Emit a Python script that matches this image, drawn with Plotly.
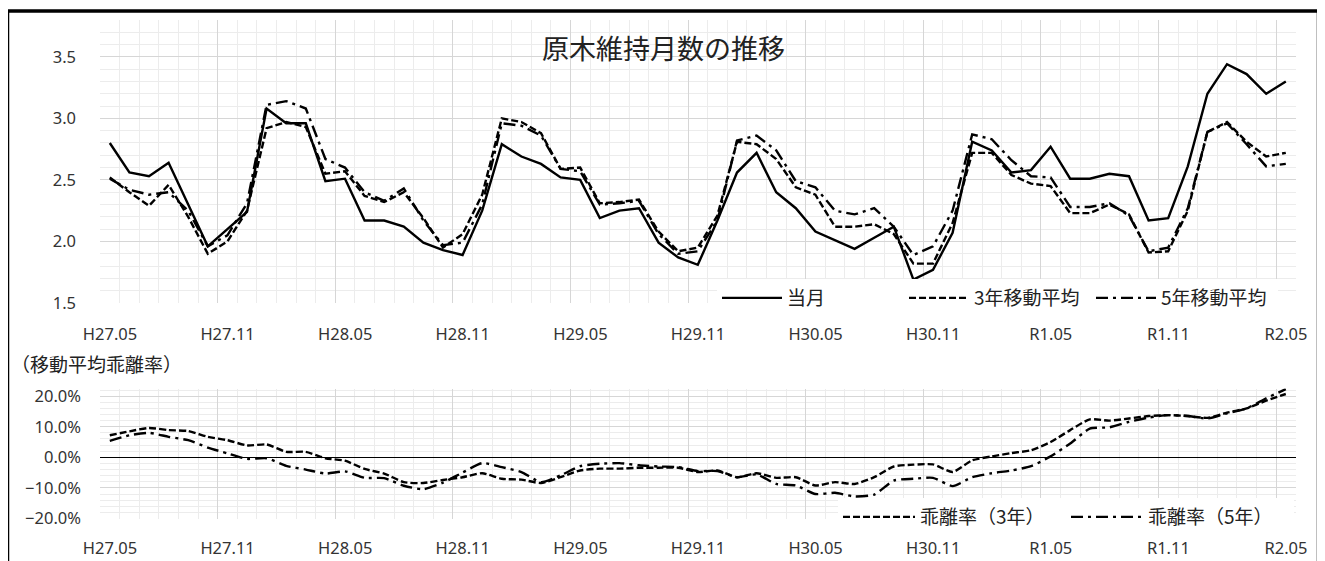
import plotly.graph_objects as go

# ---------------- data ----------------
months = ["H27.05", "H27.11", "H28.05", "H28.11", "H29.05", "H29.11",
          "H30.05", "H30.11", "R1.05", "R1.11", "R2.05"]

actual = [2.80, 2.56, 2.53, 2.64, 2.30, 1.96, 2.10, 2.24, 3.08, 2.96,
          2.96, 2.49, 2.51, 2.17, 2.17, 2.12, 1.99, 1.93, 1.89, 2.25,
          2.79, 2.69, 2.63, 2.52, 2.50, 2.19, 2.25, 2.27, 1.99, 1.87,
          1.81, 2.17, 2.56, 2.72, 2.40, 2.27, 2.08, 2.01, 1.94, 2.03,
          2.12, 1.69, 1.77, 2.07, 2.81, 2.74, 2.56, 2.58, 2.77, 2.51,
          2.51, 2.55, 2.53, 2.17, 2.19, 2.61, 3.20, 3.44, 3.36, 3.20,
          3.30]

ma3 = [2.52, 2.40, 2.29, 2.46, 2.20, 1.90, 2.00, 2.25, 2.92, 2.97,
       2.93, 2.55, 2.57, 2.37, 2.32, 2.40, 2.19, 1.95, 2.06, 2.38,
       3.00, 2.97, 2.88, 2.59, 2.60, 2.31, 2.32, 2.34, 2.08, 1.92,
       1.95, 2.21, 2.81, 2.79, 2.67, 2.44, 2.38, 2.12, 2.12, 2.14,
       2.06, 1.82, 1.82, 2.15, 2.72, 2.72, 2.54, 2.47, 2.45, 2.23,
       2.23, 2.30, 2.22, 1.91, 1.92, 2.25, 2.89, 2.97, 2.81, 2.69,
       2.72]

ma5 = [2.51, 2.42, 2.38, 2.40, 2.25, 1.96, 2.05, 2.31, 3.11, 3.14,
       3.08, 2.67, 2.60, 2.40, 2.33, 2.43, 2.17, 1.97, 1.99, 2.30,
       2.96, 2.94, 2.86, 2.59, 2.57, 2.30, 2.31, 2.33, 2.06, 1.90,
       1.92, 2.17, 2.82, 2.86, 2.74, 2.49, 2.44, 2.25, 2.22, 2.27,
       2.12, 1.89, 1.96, 2.25, 2.87, 2.83, 2.66, 2.53, 2.52, 2.28,
       2.28, 2.31, 2.21, 1.92, 1.95, 2.27, 2.89, 2.96, 2.79, 2.61,
       2.63]

dev3_pct = [7.2, 8.5, 9.6, 8.9, 8.6, 6.7, 5.6, 3.9, 4.2, 1.8,
            1.8, -0.3, -1.1, -3.8, -5.3, -8.1, -8.4, -7.4, -6.5, -5.2,
            -7.0, -7.3, -8.4, -6.5, -4.3, -3.7, -3.7, -3.4, -3.4, -3.4,
            -4.8, -4.3, -6.5, -5.2, -6.7, -6.5, -9.2, -8.1, -8.7, -6.5,
            -3.0, -2.4, -2.3, -4.8, -1.0, 0.3, 1.4, 2.3, 5.0, 8.9,
            12.4, 12.0, 12.7, 13.5, 13.8, 13.5, 12.9, 14.6, 16.0, 18.5,
            20.7]

dev5_pct = [5.4, 7.2, 8.0, 6.7, 5.6, 3.2, 1.3, -0.5, -0.3, -2.8,
            -4.0, -5.3, -4.6, -6.7, -6.8, -9.3, -10.4, -8.3, -5.0, -1.9,
            -3.2, -4.8, -8.1, -5.9, -2.9, -2.1, -1.9, -2.6, -3.0, -3.2,
            -4.5, -4.5, -6.5, -5.6, -8.7, -9.2, -12.0, -11.6, -12.8, -12.2,
            -7.6, -7.0, -6.7, -9.4, -6.5, -5.2, -4.3, -2.9, 0.3, 4.5,
            9.4, 9.8, 11.6, 13.0, 13.8, 13.5, 12.7, 14.4, 16.0, 19.3,
            22.3]

# ---------------- figure ----------------
W, H = 1325, 561
OFF = 8  # page body margin of the browser

def px(x):
    return (x - OFF) / W

def py(y):
    return 1 - (y - OFF) / H

idx = list(range(len(actual)))
dev3 = [v / 100 for v in dev3_pct]
dev5 = [v / 100 for v in dev5_pct]

JP = "Noto Sans CJK JP"
TICKFONT = dict(family="Noto Sans, " + JP, size=16.5, color="#333333")
MAJ = "#d6d6d6"
MIN = "#ececec"
DASH = "7px,3px"
DASHDOT = "12px,5px,3px,5px"

fig = go.Figure()
fig.add_trace(go.Scatter(x=idx, y=actual, name="当月", mode="lines",
                         line=dict(color="black", width=2.4),
                         xaxis="x", yaxis="y", legend="legend"))
fig.add_trace(go.Scatter(x=idx, y=ma3, name="3年移動平均", mode="lines",
                         line=dict(color="black", width=2.4, dash=DASH),
                         xaxis="x", yaxis="y", legend="legend"))
fig.add_trace(go.Scatter(x=idx, y=ma5, name="5年移動平均", mode="lines",
                         line=dict(color="black", width=2.4, dash=DASHDOT),
                         xaxis="x", yaxis="y", legend="legend"))
fig.add_trace(go.Scatter(x=idx, y=dev3, name="乖離率（3年）", mode="lines",
                         line=dict(color="black", width=2.4, dash=DASH, shape="spline", smoothing=0.6),
                         xaxis="x2", yaxis="y2", legend="legend2"))
fig.add_trace(go.Scatter(x=idx, y=dev5, name="乖離率（5年）", mode="lines",
                         line=dict(color="black", width=2.4, dash=DASHDOT, shape="spline", smoothing=0.6),
                         xaxis="x2", yaxis="y2", legend="legend2"))

n = len(actual)
bounds = [i * 6 - 0.5 for i in range(len(months))]
xdom = [px(100), px(1295.6)]

def xaxis_cfg(anchor, standoff):
    return dict(domain=xdom, anchor=anchor, range=[-0.5, n - 0.5],
                automargin=False,
                tickmode="array", tickvals=bounds, ticktext=months,
                ticklabelshift=10, ticklabelstandoff=standoff,
                showgrid=True, gridcolor=MAJ, gridwidth=1.2,
                zeroline=False, showline=False, ticks="",
                tickfont=TICKFONT,
                minor=dict(tickmode="linear", tick0=-0.5, dtick=1,
                           showgrid=True, gridcolor=MIN, gridwidth=1, ticks=""))

fig.update_layout(
    width=W, height=H,
    margin=dict(l=0, r=0, t=0, b=0, pad=0),
    paper_bgcolor="white", plot_bgcolor="white",
    font=dict(family=JP, color="#222"),
    xaxis=xaxis_cfg("y", 19),
    xaxis2=xaxis_cfg("y2", 18),
    yaxis=dict(domain=[py(303), py(19.9)], anchor="x",
               automargin=False,
               range=[1.5, 3.8], tickmode="array",
               tickvals=[1.5, 2.0, 2.5, 3.0, 3.5],
               ticktext=["1.5", "2.0", "2.5", "3.0", "3.5"],
               showgrid=True, gridcolor=MAJ, gridwidth=1.2,
               zeroline=False, showline=False, ticks="",
               ticklabelstandoff=23, tickfont=TICKFONT,
               minor=dict(tickmode="linear", tick0=1.5, dtick=0.1,
                          showgrid=True, gridcolor=MIN, ticks="")),
    yaxis2=dict(domain=[py(518.5), py(388.5)], anchor="x2",
                automargin=False,
                range=[-0.2, 0.225], tickmode="linear", tick0=-0.2, dtick=0.1,
                tickformat=".1%",
                showgrid=True, gridcolor=MAJ, gridwidth=1.2,
                zeroline=True, zerolinecolor="black", zerolinewidth=1.2,
                showline=False, ticks="",
                ticklabelstandoff=18, tickfont=TICKFONT,
                minor=dict(tickmode="linear", tick0=-0.2, dtick=0.02,
                           showgrid=True, gridcolor=MIN, ticks="")),
    legend=dict(orientation="h", x=px(717), xanchor="left",
                y=py(298), yanchor="middle",
                bgcolor="white", borderwidth=0,
                font=dict(family=JP, size=19, color="#222"),
                itemwidth=60, entrywidth=112, entrywidthmode="pixels",
                tracegroupgap=0),
    legend2=dict(orientation="h", x=px(838), xanchor="left",
                 y=py(517), yanchor="middle",
                 bgcolor="white", borderwidth=0,
                 font=dict(family=JP, size=19, color="#222"),
                 itemwidth=72, entrywidth=141, entrywidthmode="pixels",
                 tracegroupgap=0),
    showlegend=True,
)

fig.add_annotation(text="原木維持月数の推移", xref="paper", yref="paper",
                   x=px(663), xanchor="center", y=py(47), yanchor="middle",
                   showarrow=False,
                   font=dict(family=JP, size=27, color="#222"))
fig.add_annotation(text="（移動平均乖離率）", xref="paper", yref="paper",
                   x=px(9), xanchor="left", y=py(364), yanchor="middle",
                   showarrow=False,
                   font=dict(family=JP, size=19, color="#222"))

fig.add_shape(type="rect", xref="paper", yref="paper",
              x0=px(7.5), x1=px(1318.5), y0=-0.05, y1=py(11),
              line=dict(color="black", width=3.5), fillcolor="rgba(0,0,0,0)")

fig.write_html("out.html")
